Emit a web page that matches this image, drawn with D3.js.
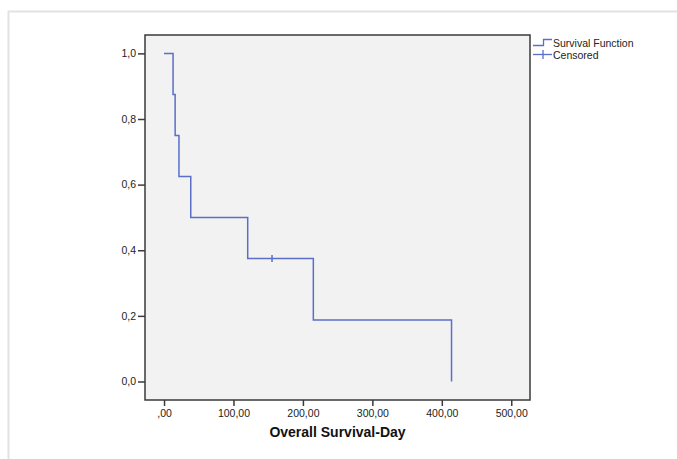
<!DOCTYPE html>
<html>
<head>
<meta charset="utf-8">
<script src="https://cdn.jsdelivr.net/npm/d3@7"></script>
<style>
  body { margin: 0; background: #fff; }
  text { font-family: Arial, "Liberation Sans", sans-serif; }
</style>
</head>
<body>
<svg id="chart" width="677" height="459"></svg>
<script>
// Kaplan-Meier steps (days, survival)
let stepTimes = [0, 13, 16, 21.5, 38.5, 120.5, 215, 414];
let stepSurv  = [1.0, 0.875, 0.75, 0.625, 0.5, 0.375, 0.1875, 0.0];
let censorTimes = [155.5];
let censorSurv  = [0.375];
let xTicks = [0, 100, 200, 300, 400, 500];
let yTicks = [0, 0.2, 0.4, 0.6, 0.8, 1.0];

const svg = d3.select('#chart');
const blue = '#5b6fc8';

// light outer frame
svg.append('line').attr('x1', 8).attr('x2', 677).attr('y1', 11.5).attr('y2', 11.5)
    .attr('stroke', '#e2e2e2').attr('stroke-width', 2);
svg.append('line').attr('x1', 8.5).attr('x2', 8.5).attr('y1', 11).attr('y2', 459)
    .attr('stroke', '#e2e2e2').attr('stroke-width', 2);

const pLeft = 145, pRight = 530, pTop = 35, pBottom = 400;
const x = d3.scaleLinear().domain([-27.4, 527]).range([pLeft, pRight]);
const y = d3.scaleLinear().domain([-0.0564, 1.056]).range([pBottom, pTop]);

svg.append('rect')
    .attr('x', pLeft).attr('y', pTop)
    .attr('width', pRight - pLeft).attr('height', pBottom - pTop)
    .attr('fill', '#f2f2f2').attr('stroke', '#3a3a3a').attr('stroke-width', 1.5);

const fmtX = d => d === 0 ? ',00' : d.toFixed(2).replace('.', ',');
const fmtY = d => d.toFixed(1).replace('.', ',');

const xAxis = svg.append('g').attr('transform', `translate(0,${pBottom})`)
    .call(d3.axisBottom(x).tickValues(xTicks).tickSize(6).tickPadding(4).tickFormat(fmtX));
const yAxis = svg.append('g').attr('transform', `translate(${pLeft},0)`)
    .call(d3.axisLeft(y).tickValues(yTicks).tickSize(7).tickPadding(2).tickFormat(fmtY));
[xAxis, yAxis].forEach(g => {
    g.select('.domain').remove();
    g.selectAll('line').attr('stroke', '#3a3a3a').attr('stroke-width', 1.5);
    g.selectAll('text').attr('fill', '#222').style('font-size', '10.5px');
});

svg.append('text')
    .attr('x', (pLeft + pRight) / 2).attr('y', 437)
    .attr('text-anchor', 'middle')
    .style('font-size', '14px').style('font-weight', 'bold').attr('fill', '#111')
    .text('Overall Survival-Day');

// survival curve
let pts = stepTimes.map((t, i) => [t, stepSurv[i]]);
const line = d3.line().x(d => x(d[0])).y(d => y(d[1])).curve(d3.curveStepAfter);
svg.append('path').datum(pts)
    .attr('d', line)
    .attr('fill', 'none').attr('stroke', blue).attr('stroke-width', 1.5);

// censored marks
svg.selectAll('.cens')
    .data(censorTimes.map((t, i) => [t, censorSurv[i]]))
    .join('line')
    .attr('class', 'cens')
    .attr('x1', d => x(d[0])).attr('x2', d => x(d[0]))
    .attr('y1', d => y(d[1]) - 3.5).attr('y2', d => y(d[1]) + 3.5)
    .attr('stroke', blue).attr('stroke-width', 1.5);

// legend
const lg = svg.append('g');
lg.append('path').attr('d', 'M533,45.5H543.5V39.5H552')
    .attr('fill', 'none').attr('stroke', blue).attr('stroke-width', 1.3);
lg.append('line').attr('x1', 533).attr('x2', 552).attr('y1', 54.5).attr('y2', 54.5)
    .attr('stroke', blue).attr('stroke-width', 1.3);
lg.append('line').attr('x1', 543).attr('x2', 543).attr('y1', 50).attr('y2', 59)
    .attr('stroke', blue).attr('stroke-width', 1.3);
lg.append('text').attr('x', 553).attr('y', 47).style('font-size', '10.5px').attr('fill', '#222')
    .text('Survival Function');
lg.append('text').attr('x', 553).attr('y', 58.5).style('font-size', '10.5px').attr('fill', '#222')
    .text('Censored');
</script>
</body>
</html>
